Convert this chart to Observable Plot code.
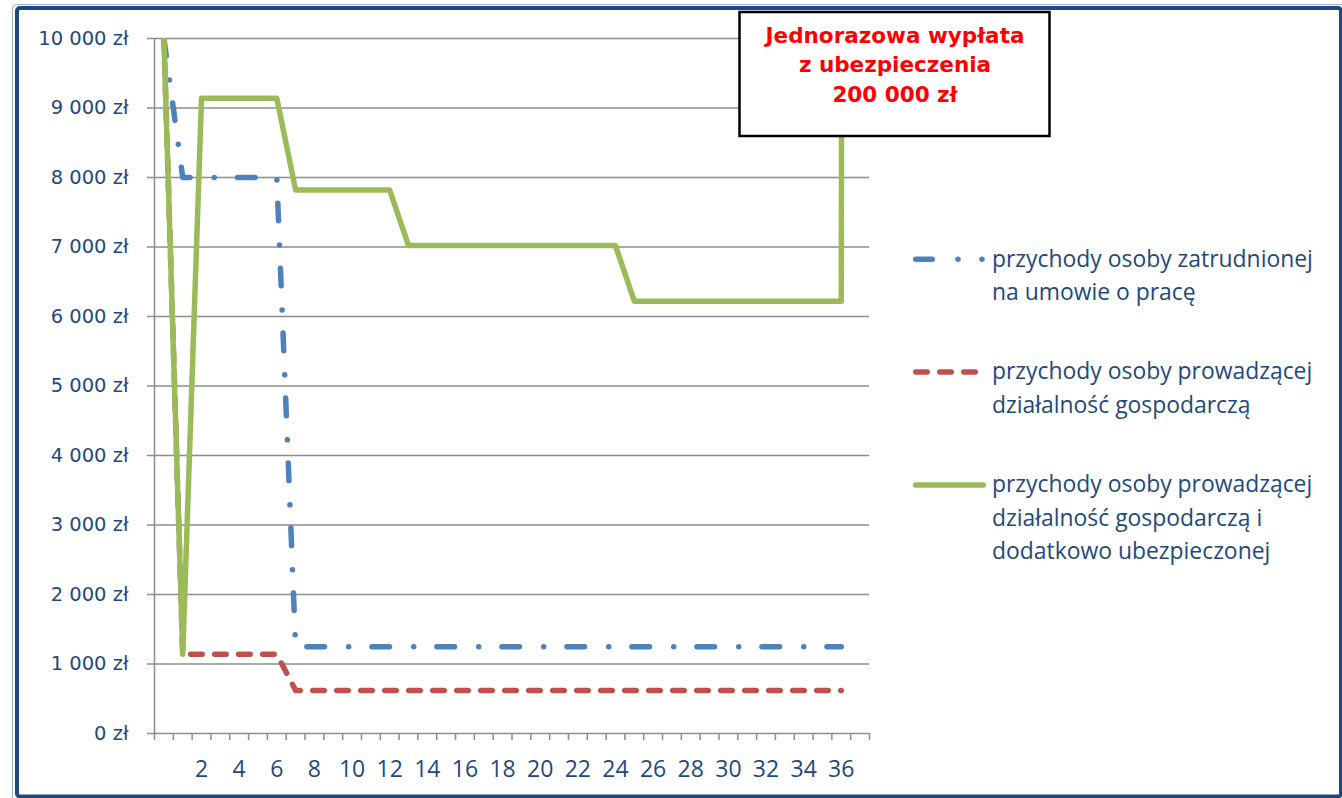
<!DOCTYPE html>
<html><head><meta charset="utf-8">
<script src="https://cdn.jsdelivr.net/npm/d3@7"></script>
<script src="https://cdn.jsdelivr.net/npm/@observablehq/plot@0.6"></script>
<style>
html,body{margin:0;padding:0;background:#fff;}
#wrap{position:relative;width:1342px;height:798px;overflow:hidden;background:#fff;}
#wrap svg{position:absolute;left:0;top:0;}
g[aria-label="y-axis tick label"] text{font-family:"DejaVu Sans";font-size:19.5px;}
g[aria-label="x-axis tick label"] text{font-family:"Open Sans";font-size:23px;}
</style></head><body><div id="wrap"></div>
<script>
// Categories (months); index 0 has no label on the axis
const months = [0,1,2,3,4,5,6,7,8,9,10,11,12,13,14,15,16,17,18,19,20,21,22,23,24,25,26,27,28,29,30,31,32,33,34,35,36,37];
const monthLabels = [2,4,6,8,10,12,14,16,18,20,22,24,26,28,30,32,34,36];
const yTicks = [0,1000,2000,3000,4000,5000,6000,7000,8000,9000,10000];

// Series values (zł)
const employed = [10000, 8000,8000,8000,8000,8000,8000,
  1250,1250,1250,1250,1250,1250,1250,1250,1250,1250,1250,1250,1250,1250,1250,
  1250,1250,1250,1250,1250,1250,1250,1250,1250,1250,1250,1250,1250,1250,1250];
const business = [10000, 1140,1140,1140,1140,1140,1140,
  620,620,620,620,620,620,620,620,620,620,620,620,620,620,620,
  620,620,620,620,620,620,620,620,620,620,620,620,620,620,620];
const insured = [10000, 1140, 9140,9140,9140,9140,9140,
  7820,7820,7820,7820,7820,7820,
  7020,7020,7020,7020,7020,7020,7020,7020,7020,7020,7020,7020,
  6220,6220,6220,6220,6220,6220,6220,6220,6220,6220,6220,6220,
  200000];

const seriesNames = [
  ["przychody osoby zatrudnionej", "na umowie o pracę"],
  ["przychody osoby prowadzącej", "działalność gospodarczą"],
  ["przychody osoby prowadzącej", "działalność gospodarczą i", "dodatkowo ubezpieczonej"]
];
const annotationLines = ["Jednorazowa wypłata", "z ubezpieczenia", "200 000 zł"];
const colors = ["#4F81BD", "#C0504D", "#9BBB59"];
const textColor = "#1F497D";
const gridColor = "#8c8c8c";

const rows = (vals, s) => vals.map((v, i) => ({month: months[i], value: v, series: s}));
const boundaries = months.map(m => m - 0.5).concat([months[months.length - 1] + 0.5]);
const fmt = d => d3.format(",")(d).replace(/,/g, " ") + " zł";

const chart = Plot.plot({
  width: 1342, height: 798,
  marginLeft: 154, marginRight: 473, marginTop: 38, marginBottom: 65,
  style: {fontFamily: "DejaVu Sans", background: "transparent", overflow: "visible"},
  x: {type: "linear", domain: [boundaries[0], boundaries[boundaries.length - 1]], label: null},
  y: {domain: [0, 10000], label: null},
  marks: [
    Plot.ruleY(yTicks, {stroke: gridColor, strokeWidth: 1.5}),
    Plot.ruleX([boundaries[0]], {stroke: gridColor, strokeWidth: 1.5}),
    Plot.axisY({ticks: yTicks, tickSize: 7, tickPadding: 19, stroke: gridColor, strokeWidth: 1.5,
      fill: textColor, fontSize: 19.5, fontFamily: "DejaVu Sans", tickFormat: fmt, label: null}),
    Plot.axisX({ticks: boundaries, tickSize: 7, stroke: gridColor, strokeWidth: 1.5,
      tickFormat: () => "", label: null}),
    Plot.axisX({ticks: monthLabels, tickSize: 0, tickPadding: 27, fill: textColor,
      fontSize: 23, fontFamily: "Open Sans", label: null}),
    Plot.line(rows(employed, 0), {x: "month", y: "value", stroke: colors[0], strokeWidth: 5.5,
      strokeDasharray: "17.6,24.2,0.01,23.2", strokeLinecap: "round", strokeLinejoin: "round", clip: true}),
    Plot.line(rows(business, 1), {x: "month", y: "value", stroke: colors[1], strokeWidth: 5.5,
      strokeDasharray: "11.5,12.5", strokeLinecap: "round", strokeLinejoin: "round", clip: true}),
    Plot.line(rows(insured, 2), {x: "month", y: "value", stroke: colors[2], strokeWidth: 5.5,
      strokeLinecap: "round", strokeLinejoin: "round", clip: true})
  ]
});

const wrap = document.getElementById("wrap");
wrap.appendChild(chart);

// Overlay: frame, legend, annotation box
const ov = d3.select(wrap).append("svg")
  .attr("width", 1342).attr("height", 798)
  .style("pointer-events", "none");

ov.append("rect").attr("x", 12.5).attr("y", 4.5).attr("width", 1336).attr("height", 800)
  .attr("fill", "none").attr("stroke", "#9DB3CE").attr("stroke-width", 1).attr("rx", 4);
ov.append("rect").attr("x", 17).attr("y", 8).attr("width", 1324).attr("height", 788.5)
  .attr("fill", "none").attr("stroke", textColor).attr("stroke-width", 4).attr("rx", 3);

// Legend
const lg = ov.append("g");
const legendY = [259.3, 372, 485];
// blue: dash + two dots
lg.append("line").attr("x1", 915.75).attr("x2", 932.25).attr("y1", legendY[0]).attr("y2", legendY[0])
  .attr("stroke", colors[0]).attr("stroke-width", 5.5).attr("stroke-linecap", "round");
[958, 982].forEach(cx => lg.append("circle").attr("cx", cx).attr("cy", legendY[0]).attr("r", 2.75).attr("fill", colors[0]));
// red dashed
lg.append("line").attr("x1", 915.75).attr("x2", 975.25).attr("y1", legendY[1]).attr("y2", legendY[1])
  .attr("stroke", colors[1]).attr("stroke-width", 5.5).attr("stroke-linecap", "round")
  .attr("stroke-dasharray", "11.5,12.5");
// green solid
lg.append("line").attr("x1", 915.75).attr("x2", 983.25).attr("y1", legendY[2]).attr("y2", legendY[2])
  .attr("stroke", colors[2]).attr("stroke-width", 5.5).attr("stroke-linecap", "round");

seriesNames.forEach((lines, k) => {
  const t = lg.append("text").attr("font-family", "Open Sans").attr("font-size", 22.9)
    .attr("fill", textColor);
  lines.forEach((line, j) => {
    t.append("tspan").attr("x", 992).attr("y", legendY[k] + 7.4 + j * 33.5).text(line);
  });
});

// Annotation box
const ann = ov.append("g");
ann.append("rect").attr("x", 739.5).attr("y", 12).attr("width", 310).attr("height", 124)
  .attr("fill", "#fff").attr("stroke", "#000").attr("stroke-width", 2.5);
annotationLines.forEach((line, j) => {
  ann.append("text").attr("x", 895).attr("y", 43 + j * 29.3).attr("text-anchor", "middle")
    .attr("font-family", "DejaVu Sans").attr("font-weight", "bold").attr("font-size", 21.5)
    .attr("fill", "#FF0000").text(line);
});
</script>
</body></html>
